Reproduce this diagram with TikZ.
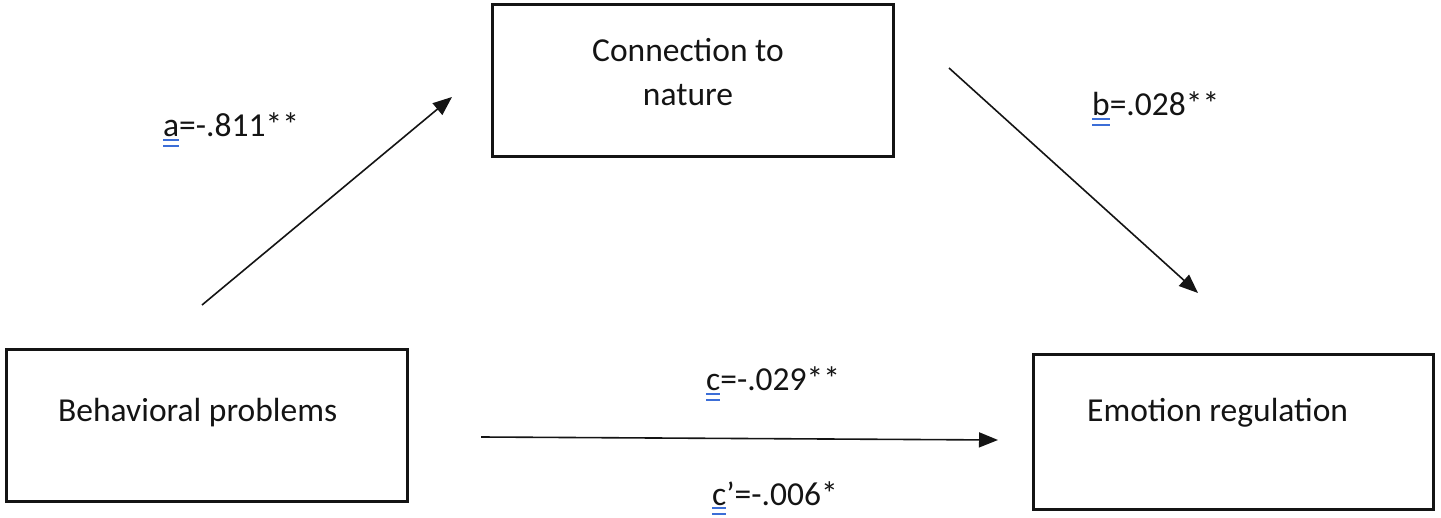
\documentclass[tikz,border=0pt]{standalone}
\usepackage{fontspec}
\setmainfont{Carlito}
\usetikzlibrary{arrows.meta}
\definecolor{spellblue}{RGB}{60,110,215}
\definecolor{ink}{RGB}{20,20,20}
\newsavebox\spellbox
\newcommand\spellmark[1]{\sbox\spellbox{#1}\rlap{\usebox\spellbox}{\color{spellblue}\rlap{\raisebox{-0.12em}{\rule{\wd\spellbox}{0.065em}}}\raisebox{-0.30em}{\rule{\wd\spellbox}{0.065em}}}}
\begin{document}
\begin{tikzpicture}[x=1pt,y=-1pt,
  box/.style={draw=ink, line width=3pt, inner sep=0pt},
  txt/.style={font=\fontsize{33.5}{44}\selectfont, text=ink, inner sep=0pt},
  link/.style={draw=ink, line width=1.6pt, -{Triangle[length=19pt,width=15pt]}}]
\useasboundingbox (0,0) rectangle (1441,518);
\fill[white] (0,0) rectangle (1441,518);
% boxes
\node[box, minimum width=401pt, minimum height=152pt] (cn) at (693,80.5) {};
\node[box, minimum width=401pt, minimum height=152pt] (bp) at (206.5,425.5) {};
\node[box, minimum width=400pt, minimum height=155pt] (er) at (1233.5,432) {};
% box texts
\node[txt, align=center] (cntext) at (688,72) {Connection to\\nature};
\node[txt, anchor=base west] (bptext) at (58,422) {Behavioral problems};
\node[txt, anchor=base west] (ertext) at (1087,422) {Emotion regulation};
% arrow end points
\coordinate (a1) at (202,305);
\coordinate (a2) at (452,97);
\coordinate (b1) at (949,68);
\coordinate (b2) at (1198,293);
\coordinate (c1) at (481,437);
\coordinate (c2) at (998,440);
\draw[link] (a1) -- (a2);
\draw[link] (b1) -- (b2);
\draw[link] (c1) -- (c2);
% labels
\node[txt, anchor=base west] (la) at (163,137) {\spellmark{a}=-.811**};
\node[txt, anchor=base west] (lb) at (1092,116) {\spellmark{b}=.028**};
\node[txt, anchor=base west] (lc) at (706,391) {\spellmark{c}=-.029**};
\node[txt, anchor=base west] (lcp) at (712,505) {\spellmark{c}’=-.006*};
\end{tikzpicture}
\end{document}
